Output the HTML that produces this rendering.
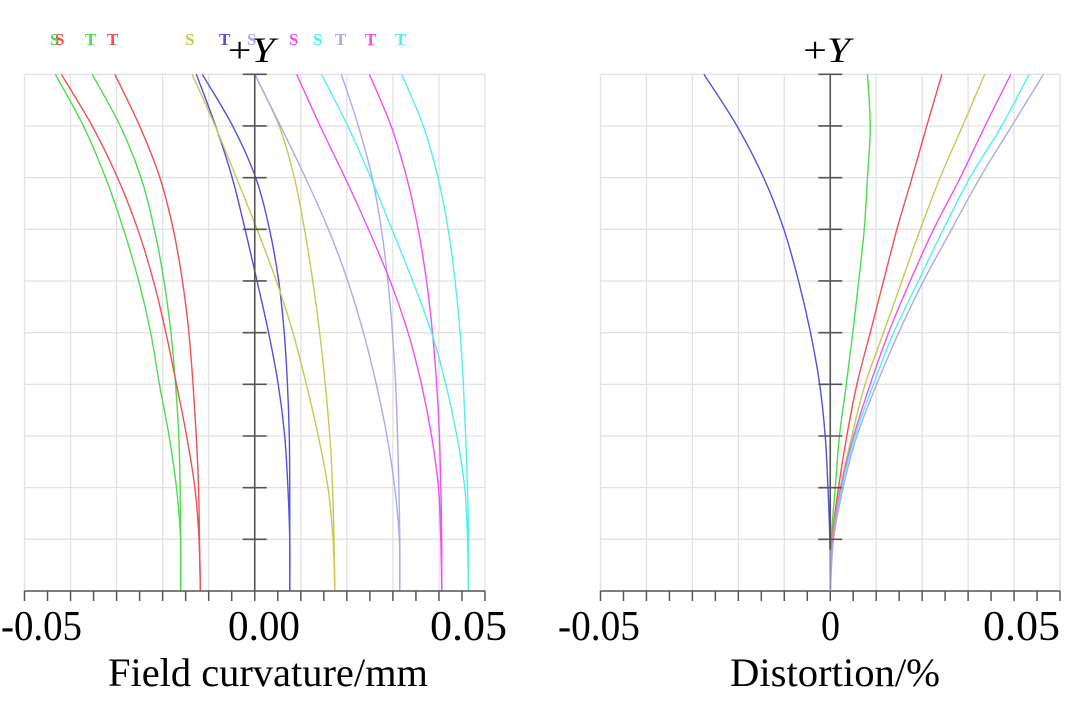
<!DOCTYPE html>
<html><head><meta charset="utf-8"><style>
html,body{margin:0;padding:0;background:#fff;}
svg{display:block;}
text{font-family:"Liberation Serif",serif;}
</style></head><body>
<svg id="c" width="1080" height="701" viewBox="0 0 1080 701"></svg>
<script>
// normalized field heights (bottom -> top)
const fields=[0,0.1,0.2,0.3,0.4,0.5,0.6,0.7,0.8,0.9,1.0];
// Field curvature (mm)
const fcNames=['green-s','green-t','red-s','red-t','blue-s','blue-t','yellow-s','yellow-t','lavender-s','lavender-t','magenta-s','magenta-t','cyan-s','cyan-t'];
const fcColors=['#4ddc4d','#4ddc4d','#f05050','#f05050','#5050e6','#5050e6','#c8c850','#c8c850','#aaaaee','#aaaaee','#f050f0','#f050f0','#50f0f0','#50f0f0'];
const greenS=[-0.0161,-0.0161,-0.0170,-0.0186,-0.0207,-0.0226,-0.0252,-0.0285,-0.0324,-0.0372,-0.0433];
const greenT=[-0.0161,-0.0161,-0.0162,-0.0165,-0.0172,-0.0182,-0.0197,-0.0218,-0.0247,-0.0292,-0.0353];
const redS=[-0.0118,-0.0121,-0.0130,-0.0148,-0.0170,-0.0193,-0.0220,-0.0254,-0.0298,-0.0353,-0.0420];
const redT=[-0.0118,-0.0120,-0.0122,-0.0127,-0.0134,-0.0143,-0.0157,-0.0177,-0.0206,-0.0250,-0.0304];
const blueS=[0.0076,0.0076,0.0072,0.0065,0.0051,0.0030,0.0005,-0.0021,-0.0049,-0.0085,-0.0127];
const blueT=[0.0076,0.0076,0.0076,0.0075,0.0071,0.0064,0.0052,0.0032,0.0002,-0.0048,-0.0114];
const yellowS=[0.0174,0.0170,0.0159,0.0138,0.0112,0.0083,0.0047,0.0005,-0.0040,-0.0086,-0.0136];
const yellowT=[0.0174,0.0172,0.0169,0.0163,0.0153,0.0141,0.0126,0.0108,0.0086,0.0053,0.0000];
const lavS=[0.0315,0.0314,0.0304,0.0287,0.0264,0.0236,0.0202,0.0160,0.0110,0.0056,0.0000];
const lavT=[0.0315,0.0315,0.0313,0.0310,0.0306,0.0299,0.0289,0.0275,0.0255,0.0225,0.0188];
const magS=[0.0406,0.0404,0.0399,0.0384,0.0362,0.0333,0.0294,0.0247,0.0196,0.0142,0.0091];
const magT=[0.0406,0.0406,0.0404,0.0401,0.0395,0.0386,0.0373,0.0355,0.0330,0.0296,0.0249];
const cyanS=[0.0464,0.0462,0.0456,0.0439,0.0415,0.0384,0.0343,0.0298,0.0252,0.0202,0.0145];
const cyanT=[0.0464,0.0464,0.0462,0.0458,0.0453,0.0446,0.0435,0.0420,0.0398,0.0366,0.0319];
const fcSeries=[greenS,greenT,redS,redT,blueS,blueT,yellowS,yellowT,lavS,lavT,magS,magT,cyanS,cyanT];
// Distortion (%)
const dNames=['blue','green','red','yellow','magenta','cyan','lavender'];
const dColors=['#5050e6','#4ddc4d','#f05050','#c8c850','#f050f0','#50f0f0','#aaaaee'];
const dBlue=[0,-0.0001,-0.0005,-0.0011,-0.0023,-0.0043,-0.0069,-0.0101,-0.0145,-0.0203,-0.0275];
const dGreen=[0,0.0002,0.0011,0.0020,0.0035,0.0049,0.0062,0.0074,0.0081,0.0087,0.0081];
const dRed=[0,0.0004,0.0018,0.0036,0.0058,0.0087,0.0116,0.0145,0.0178,0.0210,0.0243];
const dYellow=[0,0.0005,0.0022,0.0047,0.0076,0.0116,0.0156,0.0196,0.0239,0.0288,0.0336];
const dMagenta=[0,0.0006,0.0023,0.0051,0.0087,0.0127,0.0174,0.0225,0.0283,0.0337,0.0393];
const dCyan=[0,0.0007,0.0025,0.0054,0.0094,0.0138,0.0192,0.0246,0.0304,0.0373,0.0433];
const dLav=[0,0.0007,0.0028,0.0058,0.0101,0.0149,0.0203,0.0264,0.0326,0.0395,0.0464];
const dSeries=[dBlue,dGreen,dRed,dYellow,dMagenta,dCyan,dLav];
const fcTickLabels=['-0.05','0.00','0.05'];
const dTickLabels=['-0.05','0','0.05'];
const tickVals=[-0.05,0,0.05];
// legend
const legendText=['S','S','T','T','S','T','S','S','S','T','T','T'];
const legendColors=['#4ddc4d','#f05050','#4ddc4d','#f05050','#c8c850','#5050e6','#aaaaee','#f050f0','#50f0f0','#aaaaee','#f050f0','#50f0f0'];
const legendX=[50,55,85,107,185,219,247,289,313,335,365,395];

const NS='http://www.w3.org/2000/svg';
const svg=document.getElementById('c');
function mk(tag,attrs,parent){const e=document.createElementNS(NS,tag);for(const k in attrs)e.setAttribute(k,attrs[k]);(parent||svg).appendChild(e);return e;}
const TOP=74.3,BOT=591;
function yOf(h){return BOT-(BOT-TOP)*h;}
function path(pts){let d='M'+pts[0][0].toFixed(2)+','+pts[0][1].toFixed(2);
  for(let i=0;i<pts.length-1;i++){const p0=pts[Math.max(0,i-1)],p1=pts[i],p2=pts[i+1],p3=pts[Math.min(pts.length-1,i+2)];
    const c1=[p1[0]+(p2[0]-p0[0])/6,p1[1]+(p2[1]-p0[1])/6],c2=[p2[0]-(p3[0]-p1[0])/6,p2[1]-(p3[1]-p1[1])/6];
    d+=' C'+c1[0].toFixed(2)+','+c1[1].toFixed(2)+' '+c2[0].toFixed(2)+','+c2[1].toFixed(2)+' '+p2[0].toFixed(2)+','+p2[1].toFixed(2);}
  return d;}

// layout: label left edges and widths (px), not data
function panel(L,R,name,series,colors,names,tickLabels,labelBoxes,title,titleBox){
  const g=mk('g',{});
  
  
  const xOf=v=>L+(v+0.05)/0.1*(R-L);
  const cx=xOf(0);
  for(let i=0;i<=10;i++){const x=L+(R-L)*i/10;
    const gl=mk('line',{x1:x,x2:x,y1:TOP,y2:BOT,stroke:'#e2e2e2','stroke-width':1.3},g);
    }
  for(let i=0;i<=10;i++){const y=yOf(i/10);
    const gl=mk('line',{x1:L,x2:R,y1:y,y2:y,stroke:'#e2e2e2','stroke-width':1.3},g);
    }
  series.forEach((s,i)=>{
    const pts=s.map((v,j)=>[xOf(v),yOf(fields[j])]);
    const p=mk('path',{d:path(pts),fill:'none',stroke:colors[i],'stroke-width':1.4},g);
    
  });
  const ya=mk('line',{x1:cx,x2:cx,y1:TOP,y2:BOT,stroke:'#555','stroke-width':1.6},g);
  
  for(let i=1;i<=10;i++){const y=yOf(i/10);
    const t=mk('line',{x1:cx-12,x2:cx+12,y1:y,y2:y,stroke:'#555','stroke-width':1.6},g);
    }
  const xa=mk('line',{x1:L,x2:R,y1:BOT,y2:BOT,stroke:'#555','stroke-width':1.6},g);
  
  for(let i=0;i<=20;i++){const x=L+(R-L)*i/20;
    const t=mk('line',{x1:x,x2:x,y1:BOT,y2:BOT+10,stroke:'#555','stroke-width':1.5},g);
    }
  tickVals.forEach((v,i)=>{
    const b=labelBoxes[i];
    const t=mk('text',{x:b[0],y:640,'font-size':42,fill:'#000',textLength:b[1],lengthAdjust:'spacingAndGlyphs'},g);
    t.textContent=tickLabels[i];
    });
  const tt=mk('text',{x:titleBox[0],y:686,'font-size':40,fill:'#000',textLength:titleBox[1],lengthAdjust:'spacingAndGlyphs'},g);
  tt.textContent=title;
  
  const py=mk('text',{x:cx-27,y:62,'font-size':36,fill:'#000',textLength:47,lengthAdjust:'spacingAndGlyphs'},g);
  py.innerHTML='+<tspan font-style="italic">Y</tspan>';
  
}
panel(24.5,485,'field-curvature-panel',fcSeries,fcColors,fcNames,fcTickLabels,[[1,81],[228,72],[430,77]],'Field curvature/mm',[108,320]);
panel(600.5,1060,'distortion-panel',dSeries,dColors,dNames,dTickLabels,[[558,82],[821,19],[983,77]],'Distortion/%',[730,210]);
const tail=mk('line',{x1:830,x2:830,y1:yOf(0.08),y2:BOT,stroke:'#aaaaee','stroke-width':1.4});


legendText.forEach((s,i)=>{
  const t=mk('text',{x:legendX[i],y:45,'font-size':17,'font-weight':'bold',fill:legendColors[i],'font-family':'Liberation Sans, sans-serif'});
  t.textContent=s;
  
  
});
</script>
</body></html>
